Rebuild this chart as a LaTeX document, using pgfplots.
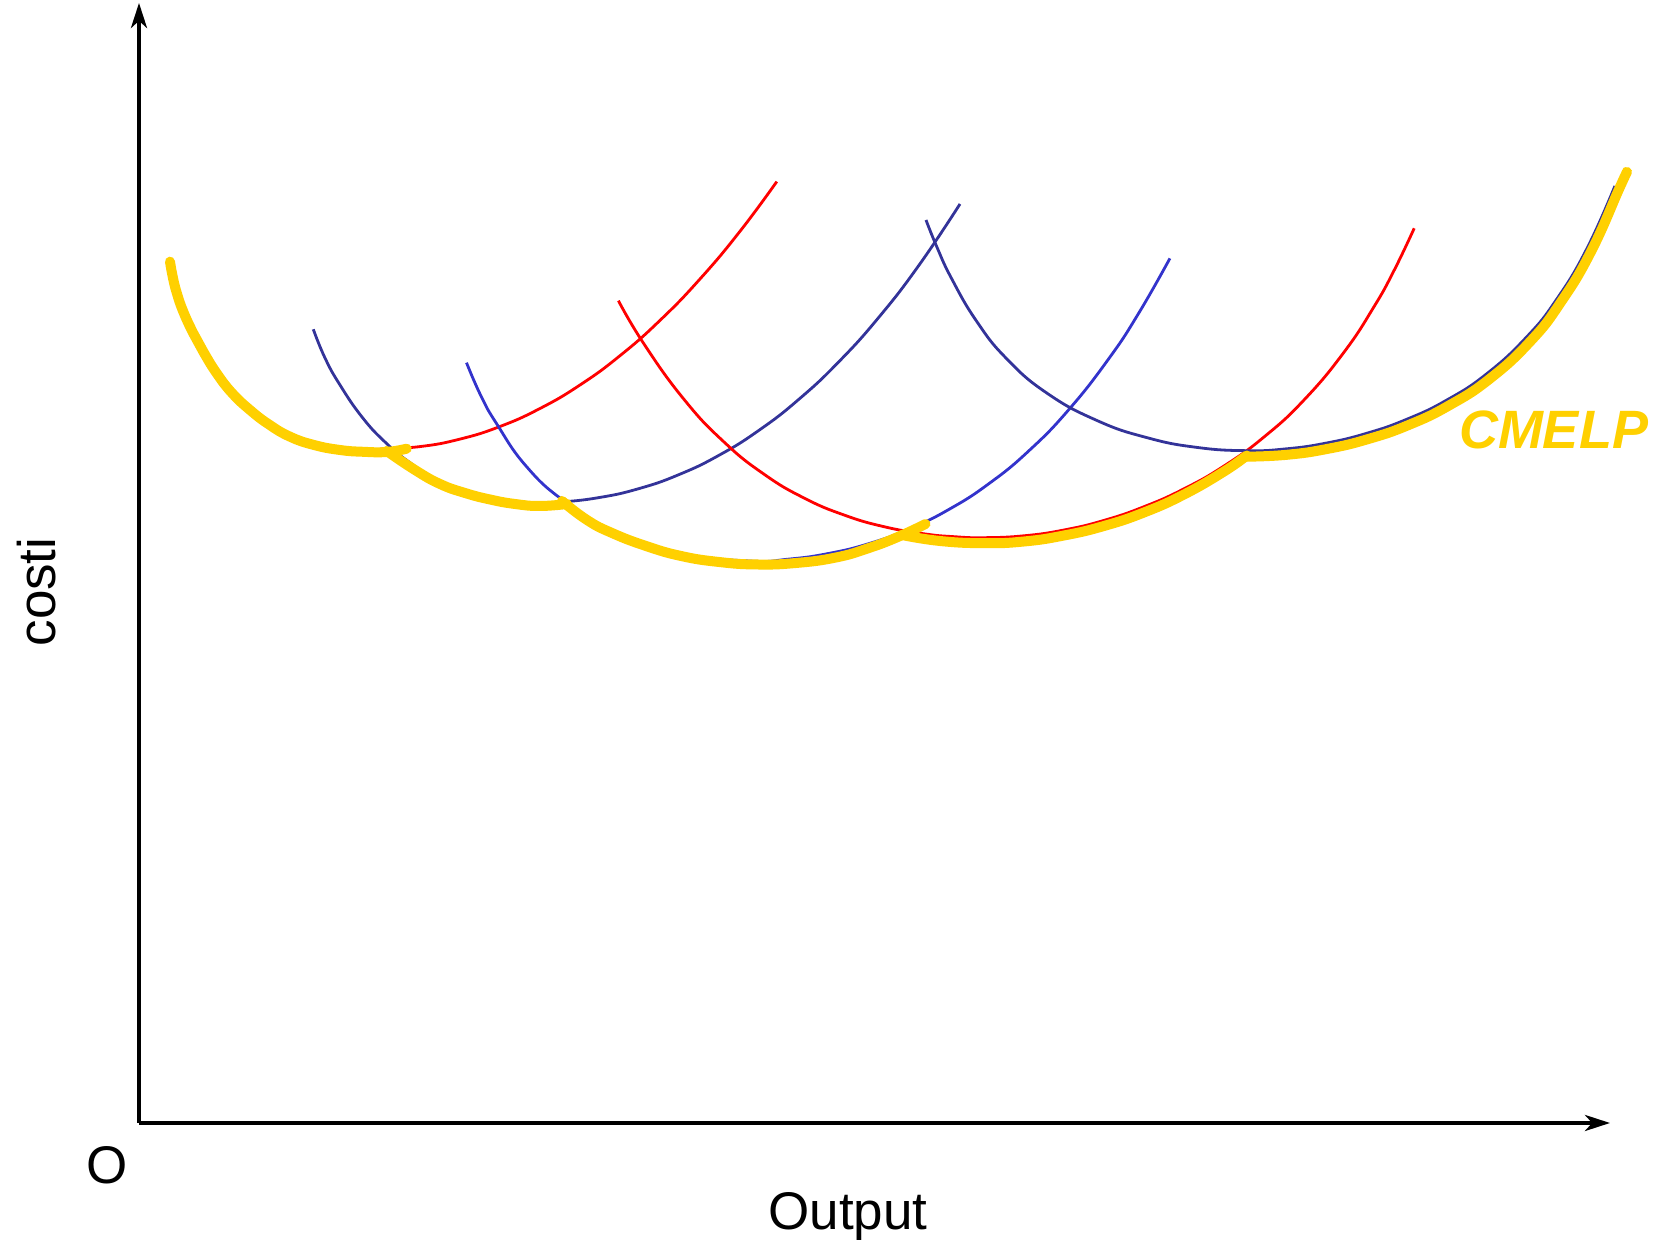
\documentclass[border=0pt]{standalone}
\usepackage{fontspec}
\setmainfont{Liberation Sans}
\usepackage{pgfplots}
\pgfplotsset{compat=1.18}
\usetikzlibrary{arrows.meta}
\definecolor{cmelp}{RGB}{255,208,0}
\definecolor{navy}{RGB}{51,51,153}
\definecolor{bblue}{RGB}{51,51,204}
\pgfplotsset{
  thin curve/.style={smooth, tension=0.8, line width=0.7pt, no markers},
  envelope/.style={smooth, tension=0.8, cmelp, line width=2.5pt, line cap=round, no markers},
}
\begin{document}
\begin{tikzpicture}
\begin{axis}[
  x=0.25pt, y=0.25pt,
  xmin=0, xmax=1471, ymin=0, ymax=1120,
  axis lines=left,
  axis line style={line width=1pt, -{Stealth[length=6.25pt,width=4pt,inset=1.8pt]}},
  ticks=none,
  clip=false,
]
% short-run average cost curves
\addplot[thin curve, red] coordinates {
  (241,674) (281,676.4) (321,683.9) (361,696.5) (401,714.5) (441,738)
  (481,767.3) (521,802.6) (561,844) (601,891.7) (637.8,941.4)};
\addplot[thin curve, navy] coordinates {
  (174.3,793.7) (186,765) (201,738) (223,706) (246,681) (270,661)
  (301,641) (331,629) (361,622.5) (395,620) (420,620.8) (460,625.4)
  (500,634.4) (540,648.4) (580,667.7) (620,692.7) (660,723.8)
  (700,761.4) (740,805.9) (780,857.8) (821,919)};
\addplot[thin curve, bblue] coordinates {
  (327.5,760.3) (342,727) (357.8,699) (387,657) (425,622) (473,593)
  (542,570) (610,562) (650,563.9) (690,569.6) (730,579.4) (770,593.9)
  (810,613.6) (850,639.4) (890,672.3) (930,713.6) (970,764.6)
  (1000,810.3) (1030.9,864.6)};
\addplot[thin curve, red] coordinates {
  (479.4,822.3) (505,779) (545,723.6) (585,681) (625,648.8) (665,625)
  (705,608) (745,596.3) (785,589.2) (815,586.3) (845,585.3) (885,587.2)
  (925,593) (965,602.6) (1005,616.3) (1045,634.2) (1085,657) (1125,686)
  (1165,723) (1205,770.8) (1235,816.3) (1255,852.4) (1275.2,894.7)};
\addplot[thin curve, navy] coordinates {
  (787,903) (797.7,876.4) (812.7,844.2) (837.7,801.6) (867.7,764.2)
  (907.7,730) (957.7,702.6) (1007.7,685.4) (1057.7,675.6) (1107.7,672.3)
  (1147.7,674.2) (1187.7,680) (1227.7,689.7) (1267.7,703.7) (1307.7,722.9)
  (1347.7,749.2) (1387.7,786.1) (1417.7,823.8) (1447.7,874) (1475.9,937)};
% long-run envelope CMELP
\addplot[envelope] coordinates {
  (31,861.3) (33.7,846.3) (37.7,830.3) (44.3,811.3) (54.3,789.7)
  (64.5,771) (77.7,749.7) (93,730) (111,713) (130,698.5) (151,686.3)
  (175,678) (201,673) (224,671.2) (247.7,671) (267.7,674.3)};
\addplot[envelope] coordinates {
  (247.7,672) (276,653) (301,639) (326,630) (351,623.5) (376,619)
  (401,617) (428,619)};
\addplot[envelope] coordinates {
  (423,622) (448,603) (473,590) (507,577) (542,567) (580,561) (618,558.5)
  (657,560) (697,565.5) (730,575) (760,586.5) (786.5,599)};
\addplot[envelope] coordinates {
  (763,588) (801,582) (845,579.8) (885,581.5) (925,587.5) (965,597)
  (1005,610.5) (1045,628.5) (1085,651.5) (1107.7,667.5)};
\addplot[envelope] coordinates {
  (1107.7,666.3) (1148,668.2) (1188.5,674.1) (1229.1,683.9) (1269.7,698)
  (1310.2,717.6) (1350.9,744.3) (1391.6,781.9) (1421.7,820.6)
  (1452,871.4) (1480.5,935) (1488,951)};
% labels
\node[rotate=90, font=\fontsize{13.25}{16}\selectfont] at (axis cs:-102,531) {costi};
\node[font=\fontsize{13.25}{16}\selectfont] at (axis cs:-32,-42) {O};
\node[font=\fontsize{13.25}{16}\selectfont] at (axis cs:709,-93.5) {Output};
\node[font=\fontsize{13.5}{16}\selectfont\bfseries\itshape, text=cmelp] at (axis cs:1414.5,693) {CMELP};
\coordinate (bl) at (axis cs:-139,-125);
\coordinate (tr) at (axis cs:1518,1123);
\end{axis}
\pgfresetboundingbox
\path[use as bounding box] (bl) rectangle (tr);
\end{tikzpicture}
\end{document}
